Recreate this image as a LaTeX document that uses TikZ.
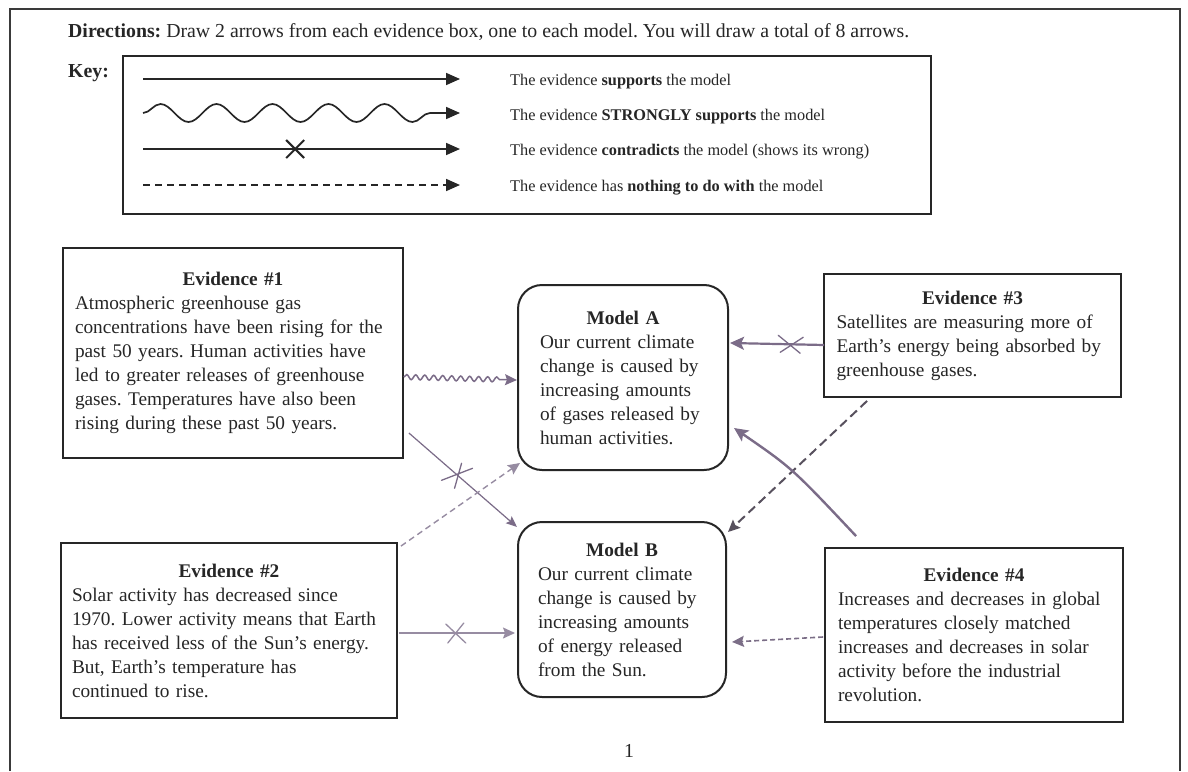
\documentclass[tikz,border=0pt]{standalone}
\usepackage{fontspec}
\setmainfont{Liberation Serif}
\usetikzlibrary{arrows.meta,decorations.pathmorphing,calc}

\definecolor{ink}{HTML}{262626}
\definecolor{frameline}{HTML}{3A3A3A}
\definecolor{pen}{HTML}{7B6C88}
\definecolor{penlight}{HTML}{978CA2}
\definecolor{pendark}{HTML}{58515E}

\newcommand{\bodysize}{\fontsize{19.8}{24}\selectfont}
\newcommand{\boxsize}{\fontsize{19.3}{24}\selectfont\frenchspacing}
\newcommand{\keysize}{\fontsize{16.3}{20}\selectfont}

\begin{document}
\frenchspacing
\begin{tikzpicture}[x=1pt,y=-1pt,
  box/.style={draw=ink, line width=1.8pt, inner sep=0pt, align=left, text=ink, font=\boxsize},
  evidence/.style={box},
  model/.style={box, rounded corners=24pt, line width=2pt},
  label/.style={anchor=base west, inner sep=0pt, text=ink},
  keyline/.style={line width=1.7pt, draw=ink, -{Triangle[length=14pt,width=12pt]}},
  keytext/.style={label, font=\keysize},
  hand/.style={draw=pen, line width=1.5pt, -{Stealth[length=12pt,width=11pt,inset=2pt]}},
  handx/.style={draw=pen, line width=1.3pt, line cap=round},
]
\useasboundingbox (0,0) rectangle (1188,771);
\fill[white] (0,0) rectangle (1188,771);

% page frame
\draw[frameline, line width=2.2pt] (10,771) -- (10,9) -- (1180,9) -- (1180,771);

% directions and key
\node[label, font=\bodysize] (dir) at (68,37)
  {\textbf{Directions:} Draw 2 arrows from each evidence box, one to each model. You will draw a total of 8 arrows.};
\node[label, font=\bodysize\bfseries] (keylabel) at (68,77) {Key:};
\node[draw=ink, line width=1.6pt, minimum width=808, minimum height=158, inner sep=0pt, anchor=north west] (keybox) at (122,55) {};

\coordinate (k1a) at (143,79);  \coordinate (k1b) at (460,79);
\coordinate (k2a) at (143,113); \coordinate (k2b) at (460,113);
\coordinate (k3a) at (143,149); \coordinate (k3b) at (460,149);
\coordinate (k4a) at (143,185); \coordinate (k4b) at (460,185);

\draw[keyline] (k1a) -- (k1b);
\draw[keyline, decorate, decoration={snake, amplitude=9pt, segment length=56pt, post length=30pt}] (k2a) -- (k2b);
\draw[keyline] (k3a) -- (k3b);
\draw[ink, line width=2pt] ($(k3a)!0.48!(k3b)+(-9,-9)$) -- ++(18,18)
                           ($(k3a)!0.48!(k3b)+(-9,9)$) -- ++(18,-18);
\draw[keyline, dash pattern=on 7pt off 5pt] (k4a) -- (k4b);

\node[keytext] (t1) at (510,85)  {The evidence \textbf{supports} the model};
\node[keytext] (t2) at (510,120) {The evidence \textbf{STRONGLY supports} the model};
\node[keytext] (t3) at (510,155) {The evidence \textbf{contradicts} the model (shows its wrong)};
\node[keytext] (t4) at (510,191) {The evidence has \textbf{nothing to do with} the model};

% evidence boxes
\node[evidence, minimum width=340, minimum height=210, text width=316] (ev1) at (233,353)
  {\makebox[\linewidth]{\textbf{Evidence \#1}}\\
   Atmospheric greenhouse gas\\
   concentrations have been rising for the\\
   past 50 years. Human activities have\\
   led to greater releases of greenhouse\\
   gases. Temperatures have also been\\
   rising during these past 50 years.};

\node[evidence, minimum width=336, minimum height=175, text width=314] (ev2) at (229,630.5)
  {\makebox[\linewidth]{\textbf{Evidence \#2}}\\
   Solar activity has decreased since\\
   1970. Lower activity means that Earth\\
   has received less of the Sun's energy.\\
   But, Earth's temperature has\\
   continued to rise.};

\node[evidence, minimum width=297, minimum height=123, text width=272] (ev3) at (972.5,335.5)
  {\makebox[\linewidth]{\textbf{Evidence \#3}}\\
   Satellites are measuring more of\\
   Earth's energy being absorbed by\\
   greenhouse gases.};

\node[evidence, minimum width=298, minimum height=174, text width=272] (ev4) at (974,635)
  {\makebox[\linewidth]{\textbf{Evidence \#4}}\\
   Increases and decreases in global\\
   temperatures closely matched\\
   increases and decreases in solar\\
   activity before the industrial\\
   revolution.};

% model boxes
\node[model, minimum width=210, minimum height=185, text width=166] (ma) at (623,377.5)
  {\makebox[\linewidth]{\textbf{Model A}}\\
   Our current climate\\
   change is caused by\\
   increasing amounts\\
   of gases released by\\
   human activities.};

\node[model, minimum width=208, minimum height=175, text width=168] (mb) at (622,609.5)
  {\makebox[\linewidth]{\textbf{Model B}}\\
   Our current climate\\
   change is caused by\\
   increasing amounts\\
   of energy released\\
   from the Sun.};

% evidence 1
\draw[hand, decorate, decoration={snake, amplitude=2.5pt, segment length=9pt, post length=14pt}]
  ($(ev1.east)+(0,24)$) -- ($(ma.west)+(0,2.5)$);
\draw[hand, line width=1.2pt, -{Stealth[length=11pt,width=9pt,inset=2pt]}]
  ($(ev1.east)+(5,80)$) coordinate (s1b) -- ($(mb.north west)+(0,6)$) coordinate (e1b);
\coordinate (x1) at ($(s1b)!0.45!(e1b)$);
\draw[handx] ($(x1)+(-16,5)$) -- ($(x1)+(15,-7)$)
             ($(x1)+(-3,13)$) -- ($(x1)+(4,-12)$);

% evidence 2
\draw[hand, draw=penlight, line width=1.4pt, dash pattern=on 6pt off 4pt]
  ($(ev2.north east)+(3,4)$) -- ($(ma.south west)+(3,-8)$);
\draw[hand, draw=penlight, line width=1.4pt]
  ($(ev2.east)+(1,2.5)$) coordinate (s2b) -- ($(mb.west)+(-2,23.5)$) coordinate (e2b);
\coordinate (x2) at ($(s2b)!0.49!(e2b)$);
\draw[handx, draw=penlight] ($(x2)+(-10,-9)$) -- ($(x2)+(10,10)$)
                           ($(x2)+(-8,10)$) -- ($(x2)+(8,-10)$);

% evidence 3
\draw[hand, line width=2.2pt, -{Stealth[length=14pt,width=13pt,inset=3pt]}]
  ($(ev3.west)+(1,9.5)$) coordinate (s3a) -- ($(ma.east)+(1,-34.5)$) coordinate (e3a);
\coordinate (x3) at ($(s3a)!0.36!(e3a)$);
\draw[handx] ($(x3)+(-12,-9)$) -- ($(x3)+(10,9)$)
             ($(x3)+(-10,8)$) -- ($(x3)+(13,-7)$);
\draw[hand, draw=pendark, line width=2pt, dash pattern=on 9pt off 5pt]
  ($(ev3.south west)+(44,3)$) -- ($(mb.north east)+(1,11)$);

% evidence 4
\draw[hand, line width=2.4pt, -{Stealth[length=14pt,width=13pt,inset=3pt]}]
  ($(ev4.north west)+(32,-11)$) .. controls (792,468) .. ($(ma.east)+(5,50.5)$);
\draw[hand, draw=pen!90!gray, line width=1.6pt, dash pattern=on 5pt off 3pt]
  ($(ev4.west)+(-1,2)$) -- ($(mb.east)+(5,32.5)$);

% page number
\node[font=\bodysize, text=ink] (pagenum) at (629,751) {1};
\end{tikzpicture}
\end{document}
